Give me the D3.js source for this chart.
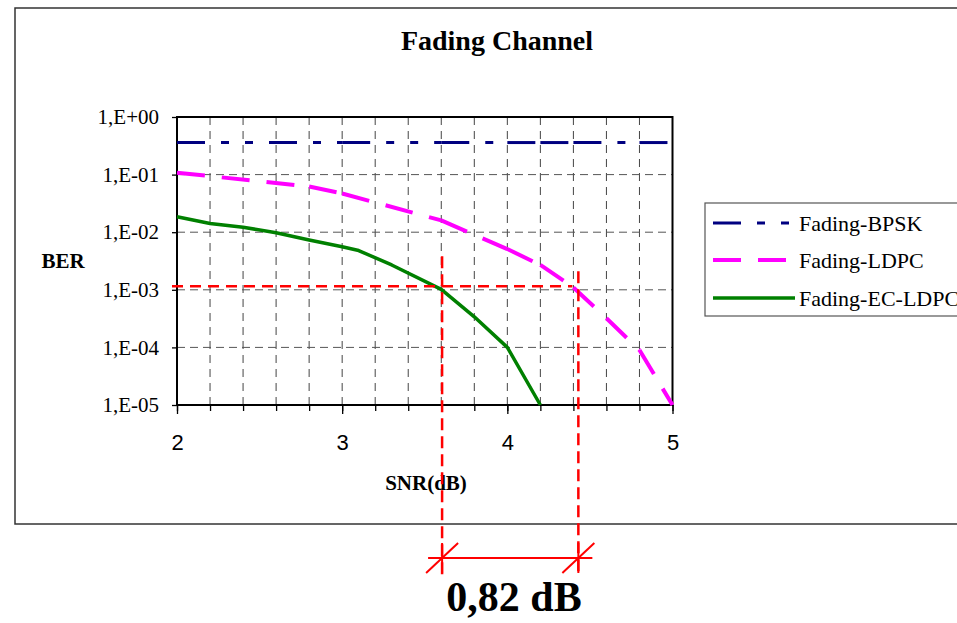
<!DOCTYPE html>
<html>
<head>
<meta charset="utf-8">
<script src="https://cdn.jsdelivr.net/npm/d3@7"></script>
<style>
  body { margin: 0; background: #fff; }
  svg { display: block; }
</style>
</head>
<body>
<div id="chart"></div>
<script>
// series (SNR in dB, BER)
const snrBpsk = [2, 3, 3.6, 4, 4.2, 4.4, 4.8, 5]
const berBpsk = [0.36, 0.36, 0.36, 0.36, 0.36, 0.36, 0.36, 0.36]

const snrLdpc = [2, 2.8, 3, 3.6, 4, 4.2, 4.4, 4.6, 4.8, 5]
const berLdpc = [1.08e-1, 6.2e-2, 4.7e-2, 1.6e-2, 5.1e-3, 2.7e-3, 1.1e-3, 3.2e-4, 9.0e-5, 1.0e-5]

const snrEc = [2, 2.2, 2.4, 2.6, 2.8, 3, 3.1, 3.3, 3.6, 3.8, 4, 4.2]
const berEc = [1.86e-2, 1.42e-2, 1.22e-2, 9.8e-3, 7.3e-3, 5.6e-3, 4.8e-3, 2.7e-3, 1.02e-3, 3.4e-4, 1.0e-4, 1.0e-5]

const seriesNames = ['Fading-BPSK', 'Fading-LDPC', 'Fading-EC-LDPC']

// axis ticks
const xLabelTicks = [2, 3, 4, 5]
const yTicks = [1, 1e-1, 1e-2, 1e-3, 1e-4, 1e-5]
const yLabels = ['1,E+00', '1,E-01', '1,E-02', '1,E-03', '1,E-04', '1,E-05']

// annotation: target BER and the two SNRs that reach it
const berTarget = [1.15e-3]
const snrGap = [3.605, 4.43]
const gapLabel = '0,82 dB'

const serif = 'Liberation Serif, Times New Roman, serif'
const sans = 'Liberation Sans, Arial, sans-serif'

const svg = d3.select('#chart')
  .append('svg')
  .attr('width', 957)
  .attr('height', 623)

// outer chart frame
svg.append('rect')
  .attr('x', 15).attr('y', 8)
  .attr('width', 980).attr('height', 516)
  .attr('fill', '#fff')
  .attr('stroke', '#333')
  .attr('stroke-width', 1.5)

svg.append('text')
  .attr('x', 497).attr('y', 50)
  .attr('text-anchor', 'middle')
  .style('font', 'bold 28px ' + serif)
  .text('Fading Channel')

const x = d3.scaleLinear().domain([2, 5]).range([177, 672.5])
const y = d3.scaleLog().domain([1e-5, 1]).range([405, 117])

const plot = svg.append('g')

// grid
const xGrid = d3.range(2.2, 4.9, 0.2)
plot.selectAll('.vgrid')
  .data(xGrid)
  .enter()
  .append('line')
  .attr('x1', d => x(d)).attr('x2', d => x(d))
  .attr('y1', y(1)).attr('y2', y(1e-5))
  .attr('stroke', '#444')
  .attr('stroke-dasharray', '8,6')
plot.selectAll('.hgrid')
  .data(yTicks.slice(1, 5))
  .enter()
  .append('line')
  .attr('x1', x(2)).attr('x2', x(5))
  .attr('y1', d => y(d)).attr('y2', d => y(d))
  .attr('stroke', '#555')
  .attr('stroke-dasharray', '8,5')

// plot frame
plot.append('rect')
  .attr('x', x(2)).attr('y', y(1))
  .attr('width', x(5) - x(2)).attr('height', y(1e-5) - y(1))
  .attr('fill', 'none')
  .attr('stroke', '#000')
  .attr('stroke-width', 2)

// axes
svg.append('g')
  .attr('transform', 'translate(0,' + y(1e-5) + ')')
  .call(d3.axisBottom(x).tickValues(d3.range(2, 5.01, 0.2)).tickSize(6).tickSizeOuter(0).tickFormat(''))
  .call(g => g.select('.domain').remove())
svg.append('g')
  .attr('transform', 'translate(0,' + y(1e-5) + ')')
  .call(d3.axisBottom(x).tickValues(xLabelTicks).tickSize(9).tickSizeOuter(0).tickPadding(20).tickFormat(d => d))
  .call(g => g.select('.domain').remove())
  .selectAll('text')
  .style('font', '22px ' + sans)
  .attr('fill', '#000')

svg.append('g')
  .attr('transform', 'translate(' + x(2) + ',0)')
  .call(d3.axisLeft(y).tickValues(yTicks).tickSize(5).tickSizeOuter(0).tickPadding(13).tickFormat((d, i) => yLabels[i]))
  .call(g => g.select('.domain').remove())
  .selectAll('text')
  .style('font', '21px ' + serif)
  .attr('fill', '#000')

svg.selectAll('.tick line').attr('stroke', '#000').attr('stroke-width', 1.3)

svg.append('text')
  .attr('x', 426).attr('y', 490)
  .attr('text-anchor', 'middle')
  .style('font', 'bold 21px ' + serif)
  .text('SNR(dB)')

svg.append('text')
  .attr('x', 63).attr('y', 268)
  .attr('text-anchor', 'middle')
  .style('font', 'bold 21px ' + serif)
  .text('BER')

/** Draws a dashed series one segment at a time so the dash restarts at every point. */
function dashedSeries (xs, ys, color, width, dash) {
  const pts = xs.map((d, i) => [x(d), y(ys[i])])
  for (let i = 0; i < pts.length - 1; i++) {
    plot.append('line')
      .attr('x1', pts[i][0]).attr('y1', pts[i][1])
      .attr('x2', pts[i + 1][0]).attr('y2', pts[i + 1][1])
      .attr('stroke', color)
      .attr('stroke-width', width)
      .attr('stroke-dasharray', dash)
  }
}

const styles = [
  { color: '#000080', width: 3, dash: '28,16,8,16,8,16' },
  { color: '#ff00ff', width: 4, dash: '28,17' },
  { color: '#008000', width: 3.5, dash: null }
]

dashedSeries(snrBpsk, berBpsk, styles[0].color, styles[0].width, styles[0].dash)
dashedSeries(snrLdpc, berLdpc, styles[1].color, styles[1].width, styles[1].dash)

plot.append('path')
  .datum(snrEc.map((d, i) => [d, berEc[i]]))
  .attr('fill', 'none')
  .attr('stroke', styles[2].color)
  .attr('stroke-width', styles[2].width)
  .attr('stroke-linejoin', 'round')
  .attr('d', d3.line().x(d => x(d[0])).y(d => y(d[1])))

// legend
const legend = svg.append('g')
legend.append('rect')
  .attr('x', 705).attr('y', 203)
  .attr('width', 300).attr('height', 113)
  .attr('fill', '#fff')
  .attr('stroke', '#555')
  .attr('stroke-width', 1.2)
const rowY = [223, 260, 298]
seriesNames.forEach((name, i) => {
  legend.append('line')
    .attr('x1', 713).attr('x2', 795)
    .attr('y1', rowY[i]).attr('y2', rowY[i])
    .attr('stroke', styles[i].color)
    .attr('stroke-width', styles[i].width)
    .attr('stroke-dasharray', styles[i].dash)
  legend.append('text')
    .attr('x', 799).attr('y', rowY[i])
    .attr('dy', '0.35em')
    .style('font', '22px ' + serif)
    .text(name)
})

// red annotation
const red = '#ff0000'
const ann = svg.append('g')
ann.append('line')
  .attr('x1', x(2) - 5).attr('x2', x(snrGap[1]) - 6)
  .attr('y1', y(berTarget[0])).attr('y2', y(berTarget[0]))
  .attr('stroke', red).attr('stroke-width', 2.5)
  .attr('stroke-dasharray', '11,7')
const markY = 558
snrGap.forEach((s, i) => {
  ann.append('line')
    .attr('x1', x(s)).attr('x2', x(s))
    .attr('y1', y(berTarget[0]) - (i === 0 ? 30 : 15)).attr('y2', markY + 17)
    .attr('stroke', red).attr('stroke-width', 2.5)
    .attr('stroke-dasharray', '12,6')
  ann.append('line')
    .attr('x1', x(s)).attr('x2', x(s))
    .attr('y1', markY - 15).attr('y2', markY + 15)
    .attr('stroke', red).attr('stroke-width', 2)
  ann.append('line')
    .attr('x1', x(s) - 16).attr('x2', x(s) + 16)
    .attr('y1', markY + 15).attr('y2', markY - 15)
    .attr('stroke', red).attr('stroke-width', 2)
})
ann.append('line')
  .attr('x1', x(snrGap[0]) - 14).attr('x2', x(snrGap[1]) + 14)
  .attr('y1', markY).attr('y2', markY)
  .attr('stroke', red).attr('stroke-width', 2)

svg.append('text')
  .attr('x', 514).attr('y', 611)
  .attr('text-anchor', 'middle')
  .style('font', 'bold 42px ' + serif)
  .text(gapLabel)
</script>
</body>
</html>
